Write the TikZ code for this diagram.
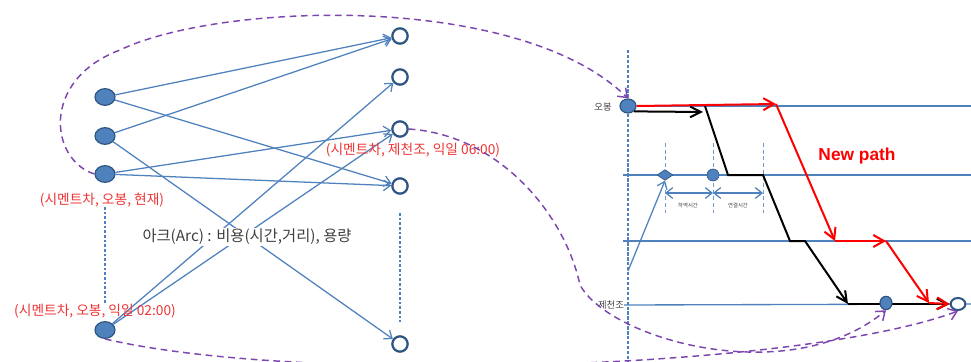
\documentclass[tikz,border=0pt]{standalone}
\usepackage{fontspec}
\setmainfont{Noto Sans CJK KR}
\newfontfamily\npfont{Liberation Sans}
\usepackage{tikz}
\usetikzlibrary{arrows.meta,shapes.geometric}

\definecolor{arcblue}{RGB}{79,129,189}
\definecolor{nodeedge}{RGB}{47,85,132}
\definecolor{cutpurple}{RGB}{125,70,175}
\definecolor{labelred}{RGB}{238,52,52}
\definecolor{textgray}{RGB}{64,64,64}

\begin{document}
\begin{tikzpicture}[
    x=0.75pt, y=-0.75pt,
    srcnode/.style={ellipse,draw=nodeedge,fill=arcblue,line width=0.9pt,
                    minimum width=15pt,minimum height=12.5pt,inner sep=0pt},
    sinknode/.style={circle,draw=nodeedge,fill=white,line width=1.7pt,
                     minimum size=11.5pt,inner sep=0pt},
    arc/.style={-{Straight Barb[length=5pt,width=8pt]},arcblue,line width=0.95pt},
    statelabel/.style={text=labelred,font=\fontsize{10.3}{12}\selectfont,inner sep=1pt},
    cutline/.style={-{Straight Barb[length=6pt,width=9pt]},cutpurple,line width=1.1pt,
                    dash pattern=on 5pt off 3.5pt},
    gridline/.style={arcblue,line width=1pt},
    guide/.style={arcblue,line width=0.8pt,dash pattern=on 2pt off 1.5pt},
    redpath/.style={-{Straight Barb[length=8pt,width=9pt]},red,line width=1.5pt},
    blackpath/.style={-{Straight Barb[length=8pt,width=8pt]},black,line width=1.5pt},
    place/.style={text=textgray,font=\fontsize{7}{8}\selectfont,inner sep=0pt},
  ]
  \useasboundingbox (0,0) rectangle (971,361);

  % --- time-space grid (right) ---
  \coordinate (axtop) at (628,50);
  \coordinate (axbot) at (628,361);
  \draw[arcblue,line width=1.1pt,dash pattern=on 2.5pt off 1.2pt] (axtop) -- (axbot);

  \node[place] (lob) at (603,107) {오봉};
  \node[place] (ljc) at (611,305) {제천조};

  \node[srcnode,minimum width=12pt,minimum height=10.5pt] (ob) at (628,106) {};
  \coordinate (g1e) at (971,106);
  \coordinate (g2w) at (623,175); \coordinate (g2e) at (971,175);
  \coordinate (g3w) at (623,241); \coordinate (g3e) at (971,241);
  \coordinate (g4e) at (971,304);
  \draw[gridline] (ob) -- (g1e);
  \draw[gridline] (g2w) -- (g2e);
  \draw[gridline] (g3w) -- (g3e);
  \draw[gridline] (ljc.east) -- (g4e);

  % --- waiting / connection intervals on the second line ---
  \foreach \x/\n in {665/v1,713/v2,763/v3} {
    \coordinate (\n t) at (\x,143);
    \coordinate (\n b) at (\x,213);
    \draw[arcblue!80,line width=0.7pt,dash pattern=on 3pt off 2pt] (\n t) -- (\n b);
    \coordinate (\n m) at (\x,193);
  }
  \draw[arc,{Straight Barb[length=5pt,width=8pt]}-{Straight Barb[length=5pt,width=8pt]}] (v1m) -- (v2m);
  \draw[arc,{Straight Barb[length=5pt,width=8pt]}-{Straight Barb[length=5pt,width=8pt]}] (v2m) -- (v3m);
  \node[text=textgray,font=\fontsize{4}{5}\selectfont] (wt) at (688,206) {하역시간};
  \node[text=textgray,font=\fontsize{4}{5}\selectfont] (ct) at (738,206) {연결시간};

  \node[diamond,fill=arcblue,draw=nodeedge,line width=0.5pt,minimum width=12pt,
        minimum height=8pt,inner sep=0pt] (dm) at (665,175) {};
  \node[srcnode,minimum width=9pt,minimum height=9pt,line width=0.5pt] (ec) at (713,175) {};
  \coordinate (feed) at (628,271);
  \draw[arc] (feed) -- (dm.south);

  \node[ellipse,draw=nodeedge,fill=white,line width=1.5pt,minimum width=11pt,
        minimum height=9pt,inner sep=0pt] (en) at (958,304) {};

  % --- old (black) path ---
  \coordinate (b1) at (703,112);
  \coordinate (b2) at (705,106);
  \coordinate (b3) at (728,175);
  \coordinate (b4) at (763,175);
  \coordinate (b5) at (790,241);
  \coordinate (b6) at (805,241);
  \coordinate (b7) at (848,304);
  \draw[blackpath] (ob.south east) -- (b1);
  \draw[blackpath] (b2) -- (b3) -- (b4) -- (b5) -- (b6) -- (b7);
  \draw[blackpath] (b7) -- (en.west);

  % --- new (red) path ---
  \coordinate (r1) at (776,104);
  \coordinate (r2) at (835,241);
  \coordinate (r3) at (886,241);
  \coordinate (r4) at (929,303);
  \draw[redpath] (ob.east) -- (r1);
  \draw[redpath] (r1) -- (r2);
  \draw[redpath] (r2) -- (r3);
  \draw[redpath] (r3) -- (r4);
  \draw[redpath] (r4) -- (en.west);
  \node[text=red,font=\npfont\bfseries\fontsize{13}{15}\selectfont] (np) at (857,156) {New path};

  \node[srcnode,minimum width=9pt,minimum height=10pt] (bn) at (886,303) {};

  % --- bipartite arc network (left) ---
  \node[srcnode] (s1) at (105,97)  {};
  \node[srcnode] (s2) at (105,136) {};
  \node[srcnode] (s3) at (105,174) {};
  \node[srcnode] (s4) at (105,330) {};

  \node[sinknode] (t1) at (400,36)  {};
  \node[sinknode] (t2) at (400,77)  {};
  \node[sinknode] (t3) at (400,129) {};
  \node[sinknode] (t4) at (400,186) {};
  \node[sinknode] (t5) at (400,344) {};

  \foreach \s/\t in {s1/t1,s1/t4,s2/t1,s2/t5,s3/t3,s3/t4,s4/t2,s4/t3} {
    \draw[arc] (\s) -- (\t);
  }

  \coordinate (d1t) at (105,207); \coordinate (d1b) at (105,305);
  \coordinate (d2t) at (400,213); \coordinate (d2b) at (400,322);
  \draw[guide] (d1t) -- (d1b);
  \draw[guide] (d2t) -- (d2b);

  \node[fill=white,inner sep=1pt,text=textgray,font=\fontsize{11.5}{13}\selectfont]
    (arcnote) at (247,237) {아크(Arc) : 비용(시간,거리), 용량};

  \node[statelabel] (st1) at (102,200) {(시멘트차, 오봉, 현재)};
  \node[statelabel] (st2) at (95,311)  {(시멘트차, 오봉, 익일 02:00)};
  \node[statelabel] (st3) at (413,150) {(시멘트차, 제천조, 익일 06:00)};

  % --- state links between the two views ---
  \coordinate (c1) at (120,50);
  \coordinate (c2) at (580,285);
  \draw[cutline] (s3.west) .. controls (50,160) and (40,80) .. (c1)
                 .. controls (220,2) and (520,-8) .. (ob.north);
  \draw[cutline] (t3.east) .. controls (500,135) and (565,215) .. (c2)
                 .. controls (610,340) and (790,390) .. (bn.south);
  \draw[cutline] (s4.south) .. controls (300,385) and (800,370) .. (en.south);

\end{tikzpicture}
\end{document}
